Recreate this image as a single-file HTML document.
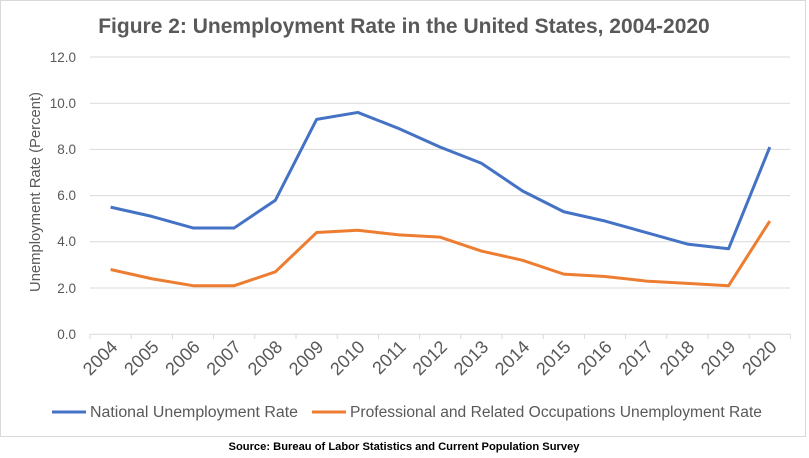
<!DOCTYPE html>
<html><head><meta charset="utf-8"><style>
body{margin:0;background:#fff;}
svg text{font-family:"Liberation Sans",sans-serif;}
</style></head><body>
<svg width="809" height="453" viewBox="0 0 809 453" xmlns="http://www.w3.org/2000/svg">
<rect x="0.5" y="0.5" width="805" height="436" fill="#fff" stroke="#d9d9d9"/>
<text x="404" y="33" text-anchor="middle" font-size="21" font-weight="bold" fill="#595959">Figure 2: Unemployment Rate in the United States, 2004-2020</text>
<g stroke="#d9d9d9" stroke-width="1">
<line x1="90" x2="790" y1="57" y2="57"/><line x1="90" x2="790" y1="103.2" y2="103.2"/>
<line x1="90" x2="790" y1="149.4" y2="149.4"/><line x1="90" x2="790" y1="195.6" y2="195.6"/>
<line x1="90" x2="790" y1="241.8" y2="241.8"/><line x1="90" x2="790" y1="288" y2="288"/>
<line x1="90" x2="790" y1="334.2" y2="334.2"/>
</g>
<g stroke="#d9d9d9">
<path d="M90 334v5M131.2 334v5M172.4 334v5M213.6 334v5M254.8 334v5M296 334v5M337.2 334v5M378.4 334v5M419.6 334v5M460.8 334v5M502 334v5M543.2 334v5M584.4 334v5M625.6 334v5M666.8 334v5M708 334v5M749.2 334v5M790.4 334v5"/>
</g>
<g font-size="13.5" fill="#595959" text-anchor="end">
<text x="76" y="62">12.0</text><text x="76" y="108">10.0</text><text x="76" y="154">8.0</text>
<text x="76" y="200">6.0</text><text x="76" y="246">4.0</text><text x="76" y="293">2.0</text><text x="76" y="339">0.0</text>
</g>
<text transform="translate(40,192) rotate(-90)" text-anchor="middle" font-size="15" fill="#595959" textLength="200" lengthAdjust="spacingAndGlyphs">Unemployment Rate (Percent)</text>
<g font-size="18" fill="#595959" text-anchor="end" id="xl"></g>
<polyline fill="none" stroke="#4472c4" stroke-width="3" stroke-linejoin="round" id="n"/>
<polyline fill="none" stroke="#ed7d31" stroke-width="3" stroke-linejoin="round" id="p"/>
<line x1="52" x2="86" y1="412" y2="412" stroke="#4472c4" stroke-width="3"/>
<text x="90" y="417" font-size="15.5" fill="#595959" textLength="208" lengthAdjust="spacingAndGlyphs">National Unemployment Rate</text>
<line x1="312" x2="346" y1="412" y2="412" stroke="#ed7d31" stroke-width="3"/>
<text x="350" y="417" font-size="15.5" fill="#595959" textLength="412" lengthAdjust="spacingAndGlyphs">Professional and Related Occupations Unemployment Rate</text>
<text x="404" y="450" text-anchor="middle" font-size="11" font-weight="bold" fill="#000" textLength="351" lengthAdjust="spacingAndGlyphs">Source: Bureau of Labor Statistics and Current Population Survey</text>
</svg>
<script>
var N=[5.5,5.1,4.6,4.6,5.8,9.3,9.6,8.9,8.1,7.4,6.2,5.3,4.9,4.4,3.9,3.7,8.1];
var P=[2.8,2.4,2.1,2.1,2.7,4.4,4.5,4.3,4.2,3.6,3.2,2.6,2.5,2.3,2.2,2.1,4.9];
function X(i){return 110.6+41.2*i}function Y(v){return 334.2-v*23.1}
document.getElementById('n').setAttribute('points',N.map((v,i)=>X(i)+','+Y(v)).join(' '));
document.getElementById('p').setAttribute('points',P.map((v,i)=>X(i)+','+Y(v)).join(' '));
var g=document.getElementById('xl'),s='';
for(var i=0;i<17;i++){var x=X(i)+8,y=348;s+='<text transform="translate('+x+','+y+') rotate(-45)">'+(2004+i)+'</text>';}
g.innerHTML=s;
</script>
</body></html>
